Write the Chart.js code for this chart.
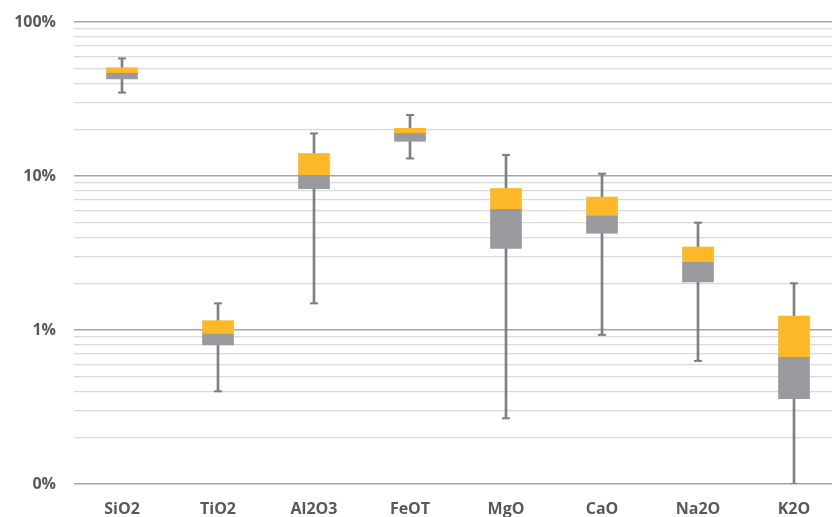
<!DOCTYPE html>
<html>
<head>
<meta charset="utf-8">
<script src="https://cdn.jsdelivr.net/npm/chart.js@4"></script>
<style>
  html, body { margin: 0; padding: 0; background: #fff; overflow: hidden; }
  #wrap { width: 848px; height: 517px; position: relative; }
</style>
</head>
<body>
<div id="wrap"><canvas id="c" width="848" height="517"></canvas></div>
<script>
const categories = ['SiO2', 'TiO2', 'Al2O3', 'FeOT', 'MgO', 'CaO', 'Na2O', 'K2O'];
const whiskerMin = [34.8, 0.40, 1.49, 13.0, 0.267, 0.93, 0.63, 0.1];
const q1         = [42.7, 0.80, 8.27, 16.8, 3.39, 4.25, 2.05, 0.358];
const median     = [46.5, 0.94, 10.1, 18.9, 6.08, 5.5, 2.75, 0.665];
const q3         = [50.5, 1.15, 14.0, 20.4, 8.3, 7.3, 3.46, 1.23];
const whiskerMax = [58.0, 1.49, 18.9, 24.9, 13.7, 10.35, 4.98, 2.01];
const decadeTicks  = [0.1, 1, 10, 100];
const decadeLabels = ['0%', '1%', '10%', '100%'];

const ORANGE = '#FDB827';
const GREY = '#989A9F';
const WHISKER = '#7F7F7F';
const FONT_Y = { family: '"Open Sans", sans-serif', size: 16, weight: 'bold' };
const FONT_X = { family: '"Open Sans", sans-serif', size: 16, weight: 'bold' };

const pairs = (a, b) => a.map((v, i) => [v, b[i]]);

const barCommon = { type: 'bar', grouped: false, borderWidth: 0, borderSkipped: false };

new Chart(document.getElementById('c'), {
  data: {
    labels: categories,
    datasets: [
      Object.assign({}, barCommon, { label: 'lowerWhisker', data: pairs(whiskerMin, q1), backgroundColor: WHISKER, barThickness: 2, order: 5 }),
      Object.assign({}, barCommon, { label: 'upperWhisker', data: pairs(q3, whiskerMax), backgroundColor: WHISKER, barThickness: 2, order: 5 }),
      Object.assign({}, barCommon, { label: 'Q1-Median', data: pairs(q1, median), backgroundColor: GREY, barThickness: 31, order: 2 }),
      Object.assign({}, barCommon, { label: 'Median-Q3', data: pairs(median, q3), backgroundColor: ORANGE, barThickness: 31, order: 2 }),
      { type: 'line', label: 'maxCap', data: whiskerMax, showLine: false, pointStyle: 'line', pointRadius: 4, pointBorderWidth: 2, borderColor: WHISKER, backgroundColor: WHISKER, order: 1 },
      { type: 'line', label: 'minCap', data: whiskerMin, showLine: false, pointStyle: 'line', pointRadius: 4, pointBorderWidth: 2, borderColor: WHISKER, backgroundColor: WHISKER, order: 1 }
    ]
  },
  options: {
    responsive: false,
    animation: false,
    layout: { padding: { top: 22, right: 0, bottom: 0, left: 0 } },
    plugins: { legend: { display: false }, tooltip: { enabled: false } },
    scales: {
      x: {
        type: 'category',
        offset: true,
        grid: { display: false, drawTicks: false },
        border: { display: false },
        ticks: { color: '#595959', font: FONT_X, padding: 16, maxRotation: 0 },
        afterFit: (s) => { s.height = 33; s.paddingLeft = 0; s.paddingRight = 0; }
      },
      y: {
        type: 'logarithmic',
        min: 0.1,
        max: 100,
        border: { display: false },
        afterFit: (s) => { s.width = 74; s.paddingTop = 0; s.paddingBottom = 0; },
        afterBuildTicks: (s) => {
          const t = [];
          for (let d = 0; d < decadeTicks.length; d++) {
            const base = decadeTicks[d];
            t.push({ value: base, major: true });
            if (d < decadeTicks.length - 1) {
              for (let m = 2; m <= 9; m++) t.push({ value: +(base * m).toPrecision(3), major: false });
            }
          }
          s.ticks = t;
        },
        grid: {
          drawTicks: false,
          color: (ctx) => (ctx.tick && decadeTicks.includes(ctx.tick.value)) ? '#A6A6A6' : '#D9D9D9',
          lineWidth: (ctx) => (ctx.tick && decadeTicks.includes(ctx.tick.value)) ? 1.5 : 1.2
        },
        ticks: {
          color: '#595959',
          font: FONT_Y,
          padding: 18,
          autoSkip: false,
          callback: (v) => {
            const i = decadeTicks.indexOf(v);
            return i >= 0 ? decadeLabels[i] : '';
          }
        }
      }
    }
  }
});
</script>
</body>
</html>
